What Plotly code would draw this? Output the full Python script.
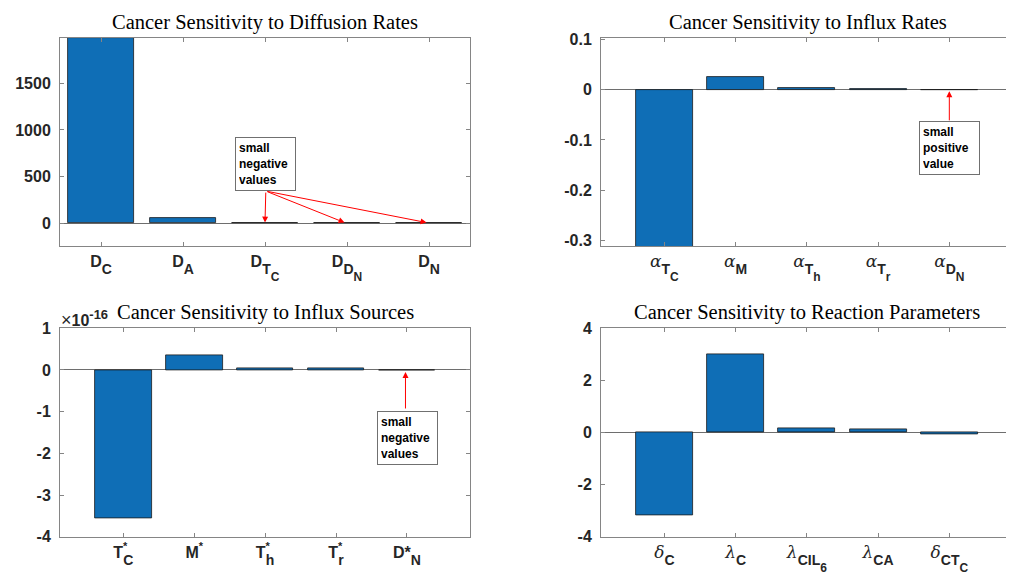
import numpy as np
import plotly.graph_objects as go
from plotly.subplots import make_subplots

# ---------------- data ----------------
G = '<span style="font-family:\'DejaVu Serif\';font-weight:normal;font-style:italic;font-size:17px">{}</span>'


def sub(t, size=14, shift=7):
    return '<span style="font-size:%dpx;baseline-shift:-%dpx">%s</span>' % (size, shift, t)


def sub2(t):
    return sub(t, 12, 7)


STAR = '<span style="font-size:11px;baseline-shift:8px;letter-spacing:-4px">*</span>'

diff_labels = ["D" + sub("C"), "D" + sub("A"), "D" + sub("T" + sub2("C")),
               "D" + sub("D" + sub2("N")), "D" + sub("N")]
diff_vals = [1984, 57, -0.5, -0.5, -0.5]

influx_rate_labels = [G.format("α") + sub("T" + sub2("C")),
                      G.format("α") + sub("M"),
                      G.format("α") + sub("T" + sub2("h")),
                      G.format("α") + sub("T" + sub2("r")),
                      G.format("α") + sub("D" + sub2("N"))]
influx_rate_vals = [-0.315, 0.0257, 0.0025, 0.0012, 0.0002]

influx_src_labels = ["T" + STAR + sub("C"), "M" + '<span style="font-size:11px;baseline-shift:8px">*</span>',
                     "T" + STAR + sub("h"), "T" + STAR + sub("r"), "D*" + sub("N")]
influx_src_vals = [-3.57e-16, 0.35e-16, 0.035e-16, 0.03e-16, -0.004e-16]
influx_src_scale = 1e-16

react_labels = [G.format("δ") + sub("C"), G.format("λ") + sub("C"),
                G.format("λ") + sub("CIL" + sub2("6")), G.format("λ") + sub("CA"),
                G.format("δ") + sub("CT" + sub2("C"))]
react_vals = [-3.16, 3.0, 0.15, 0.13, -0.06]

titles = ["Cancer Sensitivity to Diffusion Rates", "Cancer Sensitivity to Influx Rates",
          "Cancer Sensitivity to Influx Sources", "Cancer Sensitivity to Reaction Parameters"]

xpos = [1, 2, 3, 4, 5]

# ---------------- figure ----------------
BAR = "#0F6EB6"
FRAME = "#858585"
TXT = "#262626"
W, H = 1006, 569
OFF = 8  # page body margin


def px(x):
    return (x - OFF) / W


def py(y):
    return 1 - (y - OFF) / H


def fmt(v):
    return "%g" % v


fig = make_subplots(rows=2, cols=2)

panels = [
    (1, 1, diff_labels, np.array(diff_vals), [0.5, 5.5], [-243, 1984], [0, 500, 1000, 1500]),
    (1, 2, influx_rate_labels, np.array(influx_rate_vals), [0.11, 5.88], [-0.3105, 0.1025],
     [-0.3, -0.2, -0.1, 0, 0.1]),
    (2, 1, influx_src_labels, np.array(influx_src_vals) / influx_src_scale, [0.107, 5.89], [-4, 1],
     [-4, -3, -2, -1, 0, 1]),
    (2, 2, react_labels, np.array(react_vals), [0.11, 5.88], [-4, 4], [-4, -2, 0, 2, 4]),
]

for r, c, labels, vals, xr, yr, yt in panels:
    fig.add_trace(go.Bar(x=xpos, y=vals, width=0.8, marker=dict(color=BAR, line=dict(color="#1a1a1a", width=0.8)),
                         showlegend=False), row=r, col=c)
    fig.update_xaxes(range=xr, tickvals=xpos, ticktext=labels, ticks="inside", ticklen=4, tickcolor=FRAME,
                     showline=True, linecolor=FRAME, linewidth=1, mirror="ticks", showgrid=False, zeroline=False,
                     tickfont=dict(family="Liberation Sans", size=16, color=TXT, weight="bold"),
                     ticklabelstandoff=1, automargin=False, row=r, col=c)
    fig.update_yaxes(range=yr, tickvals=yt, ticktext=[fmt(v) for v in yt], ticks="inside", ticklen=4,
                     tickcolor=FRAME,
                     showline=True, linecolor=FRAME, linewidth=1, mirror="ticks", showgrid=False,
                     zeroline=True, zerolinecolor="#6e6e6e", zerolinewidth=1,
                     tickfont=dict(family="Liberation Sans", size=16, color=TXT, weight="bold"),
                     ticklabelstandoff=5, automargin=False, row=r, col=c)

# domains (pixel-matched)
xl = [px(60), px(470)]
xr_ = [px(601), px(1012)]
yt_ = [py(246), py(38)]
yb_ = [py(536.7), py(328.3)]
fig.update_layout(
    xaxis=dict(domain=xl), yaxis=dict(domain=yt_),
    xaxis2=dict(domain=xr_), yaxis2=dict(domain=yt_),
    xaxis3=dict(domain=xl), yaxis3=dict(domain=yb_),
    xaxis4=dict(domain=xr_), yaxis4=dict(domain=yb_),
)

ann = []
title_pos = [(265, 22), (807.5, 22), (265, 312), (807, 312.5)]
for t, (tx, ty) in zip(titles, title_pos):
    ann.append(dict(text=t, x=px(tx), y=py(ty), xref="paper", yref="paper", showarrow=False,
                    xanchor="center", yanchor="middle",
                    font=dict(family="Liberation Serif", size=20.5, color="black")))

# exponent label
ann.append(dict(text="<span style='font-weight:normal;font-size:18px'>×</span>10"
                     "<span style='font-size:13px;baseline-shift:7px'>-16</span>",
                x=px(59), y=py(318), xref="paper", yref="paper", showarrow=False, xanchor="left",
                yanchor="middle", font=dict(family="Liberation Sans", size=16, color=TXT, weight="bold")))

BOX_FONT = dict(family="Liberation Sans", size=12, color="black", weight="bold")
box = dict(showarrow=False, align="left", bordercolor="#707070", borderwidth=1, borderpad=3,
           bgcolor="white", width=53, height=46, font=BOX_FONT)

# panel 1: small negative values, three arrows
ann.append(dict(text="small<br>negative<br>values", x=3.0, y=640, xref="x", yref="y", **box))
for hx in [3.0, 3.97, 4.97]:
    ann.append(dict(text="", x=hx, y=8, xref="x", yref="y", ax=3.01, ay=345, axref="x", ayref="y",
                    showarrow=True, arrowhead=2, arrowsize=1.2, arrowwidth=1, arrowcolor="#ff0000"))

# panel 2: small positive value
ann.append(dict(text="small<br>positive<br>value", x=5.0, y=-0.116, xref="x2", yref="y2", **box))
ann.append(dict(text="", x=5.0, y=-0.003, xref="x2", yref="y2", ax=5.0, ay=-0.064, axref="x2", ayref="y2",
                showarrow=True, arrowhead=2, arrowsize=1.2, arrowwidth=1, arrowcolor="#ff0000"))

# panel 3: small negative values
ann.append(dict(text="small<br>negative<br>values", x=5.01, y=-1.62, xref="x3", yref="y3", **box))
ann.append(dict(text="", x=4.98, y=-0.05, xref="x3", yref="y3", ax=4.98, ay=-0.96, axref="x3", ayref="y3",
                showarrow=True, arrowhead=2, arrowsize=1.2, arrowwidth=1, arrowcolor="#ff0000"))

fig.update_layout(
    width=W, height=H, autosize=False,
    margin=dict(l=0, r=0, t=0, b=0, autoexpand=False),
    paper_bgcolor="white", plot_bgcolor="white",
    annotations=ann, bargap=0,
)

fig.write_html("out.html")
